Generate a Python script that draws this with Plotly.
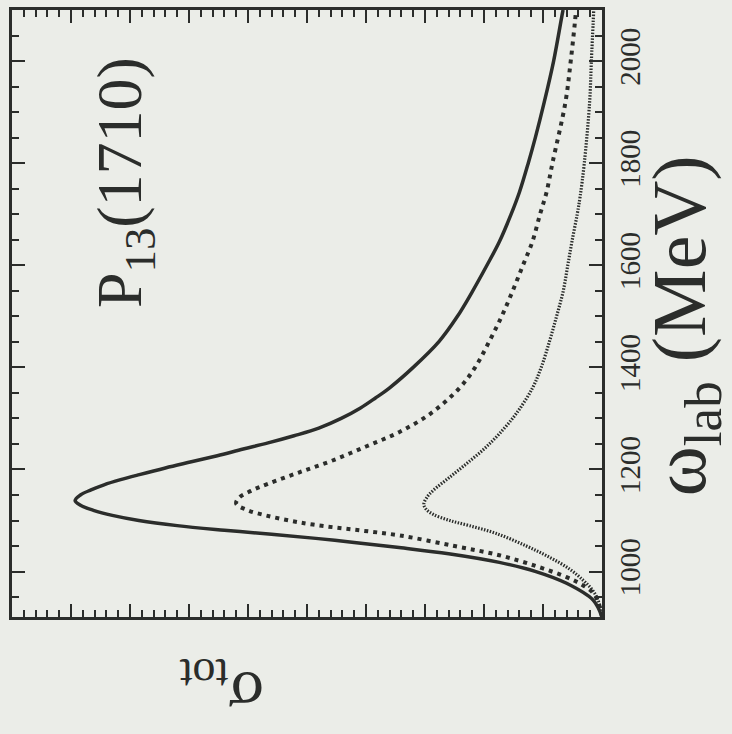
import plotly.graph_objects as go

# omega_lab (MeV) and sigma_tot (arbitrary units) for the three curves
omega_solid = [911, 944, 977, 1000, 1018, 1035, 1047, 1057, 1065, 1073, 1081, 1090, 1100, 1110, 1120, 1130, 1139,
               1150, 1160, 1170, 1180, 1190, 1203, 1215, 1227, 1240, 1252, 1266, 1281, 1300, 1320, 1340, 1359,
               1400, 1451, 1500, 1548, 1600, 1646, 1700, 1743, 1800, 1850, 1919, 2000, 2088, 2100]
sigma_solid = [0, 0.15, 0.60, 1.12, 1.74, 2.6, 3.44, 4.2, 4.85, 5.6, 6.4, 7.2, 7.85, 8.3, 8.62, 8.84, 8.93,
               8.84, 8.66, 8.44, 8.16, 7.84, 7.40, 6.96, 6.52, 6.08, 5.66, 5.22, 4.80, 4.42, 4.1, 3.84, 3.61,
               3.2, 2.76, 2.45, 2.20, 1.95, 1.74, 1.54, 1.40, 1.25, 1.13, 0.98, 0.82, 0.68, 0.66]

omega_dash = [911, 935, 958, 975, 989, 1010, 1032, 1050, 1071, 1082, 1092, 1100, 1110, 1120, 1133, 1145, 1158,
              1172, 1194, 1217, 1245, 1273, 1310, 1359, 1400, 1451, 1500, 1548, 1600, 1646, 1700, 1743, 1800,
              1919, 2000, 2075, 2100]
sigma_dash = [0, 0.05, 0.15, 0.35, 0.60, 1.1, 1.74, 2.5, 3.44, 4.2, 4.9, 5.3, 5.7, 6.0, 6.2, 6.15, 5.95,
              5.66, 5.14, 4.58, 4.0, 3.44, 2.9, 2.42, 2.15, 1.91, 1.70, 1.52, 1.34, 1.18, 1.05, 0.94, 0.84,
              0.62, 0.53, 0.46, 0.44]

omega_dot = [911, 930, 950, 965, 983, 1005, 1028, 1050, 1075, 1090, 1100, 1112, 1122, 1132, 1145, 1159, 1185,
             1211, 1240, 1270, 1310, 1359, 1400, 1451, 1500, 1548, 1600, 1646, 1700, 1735, 1800, 1919, 2000, 2100]
sigma_dot = [0, 0.03, 0.09, 0.17, 0.32, 0.55, 0.89, 1.28, 1.80, 2.25, 2.58, 2.86, 2.98, 3.02, 2.97, 2.86, 2.58,
             2.30, 2.0, 1.74, 1.45, 1.18, 1.03, 0.89, 0.77, 0.66, 0.58, 0.51, 0.42, 0.37, 0.30, 0.21, 0.18, 0.14]

omega_ticks = [1000, 1200, 1400, 1600, 1800, 2000]

INK = "#2b2d2b"
BG = "#ebede8"
SERIF = "Liberation Serif"

fig = go.Figure()
fig.add_trace(go.Scatter(x=sigma_solid, y=omega_solid, mode="lines", line_shape="spline",
                         line=dict(color=INK, width=3.5), showlegend=False))
fig.add_trace(go.Scatter(x=sigma_dash, y=omega_dash, mode="lines", line_shape="spline",
                         line=dict(color=INK, width=4, dash="4px,5px"), showlegend=False))
fig.add_trace(go.Scatter(x=sigma_dot, y=omega_dot, mode="lines", line_shape="spline",
                         line=dict(color=INK, width=3.2, dash="1.5px,1.5px"), showlegend=False))

fig.update_layout(
    width=732, height=734,
    margin=dict(l=12, r=130, t=7, b=117),
    paper_bgcolor=BG, plot_bgcolor=BG,
    font=dict(family=SERIF, color=INK),
    xaxis=dict(range=[10, 0], showticklabels=False, showgrid=False, zeroline=False,
               showline=True, linewidth=3, linecolor=INK, mirror="ticks",
               ticks="inside", tickmode="linear", tick0=0, dtick=1, ticklen=13, tickwidth=2, tickcolor=INK,
               minor=dict(ticks="inside", dtick=0.2, tick0=0, ticklen=7, tickwidth=1.5, tickcolor=INK)),
    yaxis=dict(range=[911, 2100], side="right", showgrid=False, zeroline=False,
               showline=True, linewidth=3, linecolor=INK, mirror="ticks",
               ticks="inside", tickmode="array", tickvals=omega_ticks,
               ticktext=[str(v) for v in omega_ticks],
               ticklen=13, tickwidth=2, tickcolor=INK, tickangle=-90,
               tickfont=dict(family=SERIF, size=29, color=INK),
               minor=dict(ticks="inside", tickmode="linear", tick0=1000, dtick=50, ticklen=7, tickwidth=1.5,
                          tickcolor=INK)),
)

fig.add_annotation(text="ω<sub>lab</sub> (MeV)", xref="paper", yref="paper", x=1.14, y=0.48,
                   textangle=-90, showarrow=False, xanchor="center", yanchor="middle",
                   font=dict(family=SERIF, size=76, color=INK))
fig.add_annotation(text="P<sub>13</sub>(1710)", xref="paper", yref="paper", x=0.19, y=0.715,
                   textangle=-90, showarrow=False, xanchor="center", yanchor="middle",
                   font=dict(family=SERIF, size=64, color=INK))
fig.add_annotation(text="σ<sub>tot</sub>", xref="paper", yref="paper", x=0.355, y=-0.12,
                   textangle=180, showarrow=False, xanchor="center", yanchor="middle",
                   font=dict(family=SERIF, size=66, color=INK))

fig.write_html("out.html")
